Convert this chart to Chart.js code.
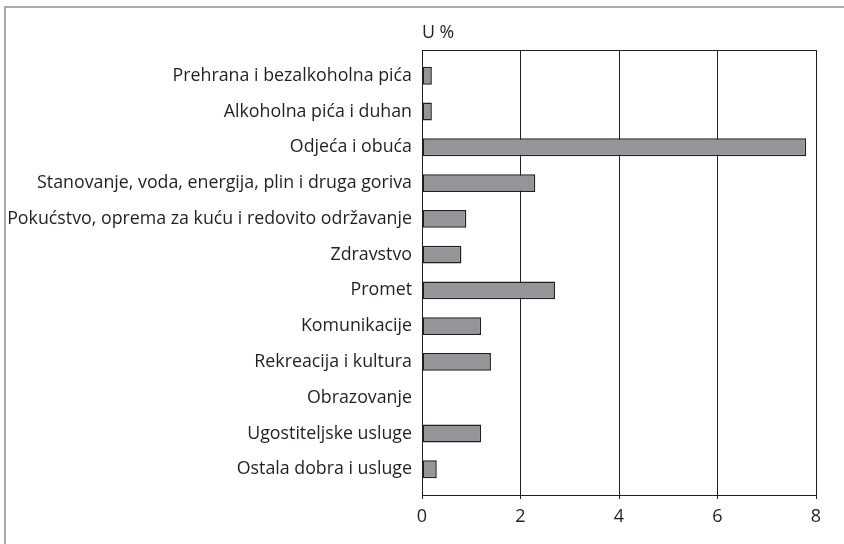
<!DOCTYPE html>
<html>
<head>
<meta charset="utf-8">
<script src="https://cdn.jsdelivr.net/npm/chart.js@4"></script>
<style>
  html, body { margin: 0; padding: 0; background: #fff; }
  #wrap { position: relative; width: 844px; height: 544px; overflow: hidden; }
  #frame {
    position: absolute; left: 4px; top: 6px; width: 840px; height: 538px;
    border-top: 2px solid #a9a9a9; border-left: 2px solid #a9a9a9;
  }
  canvas { position: absolute; left: 0; top: 0; }
</style>
</head>
<body>
<div id="wrap">
  <div id="frame"></div>
  <canvas id="chart" width="844" height="544"></canvas>
</div>
<script>
// categories, top to bottom
const categories = [
    'Prehrana i bezalkoholna pića',
    'Alkoholna pića i duhan',
    'Odjeća i obuća',
    'Stanovanje, voda, energija, plin i druga goriva',
    'Pokućstvo, oprema za kuću i redovito održavanje',
    'Zdravstvo',
    'Promet',
    'Komunikacije',
    'Rekreacija i kultura',
    'Obrazovanje',
    'Ugostiteljske usluge',
    'Ostala dobra i usluge'
];

// u %
const values = [0.2, 0.2, 7.8, 2.3, 0.9, 0.8, 2.7, 1.2, 1.4, null, 1.2, 0.3];

const xTicks = [0, 2, 4, 6, 8];
const unitLabel = 'U %';

const ink = '#231f20';
const labelFont = { family: 'Open Sans', size: 17.8 };

// closes the plot box along its top edge
const boxTop = {
    id: 'boxTop',
    afterDatasetsDraw(chart) {
        const { ctx, chartArea: a } = chart;
        ctx.save();
        ctx.strokeStyle = ink;
        ctx.lineWidth = 1;
        ctx.beginPath();
        ctx.moveTo(a.left, Math.round(a.top) + 0.5);
        ctx.lineTo(a.right, Math.round(a.top) + 0.5);
        ctx.stroke();
        ctx.restore();
    }
};

const ctx = document.getElementById('chart').getContext('2d');
new Chart(ctx, {
    type: 'bar',
    data: {
        datasets: [{
            data: categories.map((c, i) => ({ x: values[i], y: i })),
            backgroundColor: '#939598',
            borderColor: ink,
            borderWidth: 1.5,
            borderSkipped: false,
            categoryPercentage: 1,
            barPercentage: 0.5
        }]
    },
    plugins: [boxTop],
    options: {
        indexAxis: 'y',
        responsive: false,
        animation: false,
        devicePixelRatio: 1,
        layout: { padding: { left: 0, right: 28, top: 0, bottom: 0 } },
        plugins: {
            legend: { display: false },
            tooltip: { enabled: false }
        },
        scales: {
            x: {
                type: 'linear',
                position: 'bottom',
                min: 0,
                max: 8,
                afterBuildTicks: (scale) => { scale.ticks = xTicks.map(v => ({ value: v })); },
                afterFit: (scale) => { scale.height = 49; },
                grid: { color: ink, lineWidth: 1, tickLength: 4 },
                border: { display: true, color: ink, width: 1 },
                ticks: { color: ink, font: { family: 'Open Sans', size: 18 }, padding: 7 }
            },
            // only reserves the top band and carries the unit label
            xTop: {
                type: 'linear',
                position: 'top',
                min: 0,
                max: 8,
                afterFit: (scale) => { scale.height = 50; },
                grid: { display: false, drawTicks: false },
                border: { display: false },
                ticks: { display: false },
                title: {
                    display: true,
                    text: unitLabel,
                    align: 'start',
                    color: ink,
                    font: labelFont,
                    padding: { top: 22, bottom: 0 }
                }
            },
            y: {
                type: 'linear',
                reverse: true,
                offset: false,
                min: -0.72,
                max: 11.72,
                afterBuildTicks: (scale) => { scale.ticks = categories.map((_, i) => ({ value: i })); },
                afterFit: (scale) => { scale.width = 422; },
                grid: { display: false, drawTicks: false, offset: false },
                border: { display: true, color: ink, width: 1 },
                ticks: {
                    color: ink,
                    font: labelFont,
                    padding: 10,
                    autoSkip: false,
                    callback: (v) => categories[v] ?? ''
                }
            }
        }
    }
});
</script>
</body>
</html>
